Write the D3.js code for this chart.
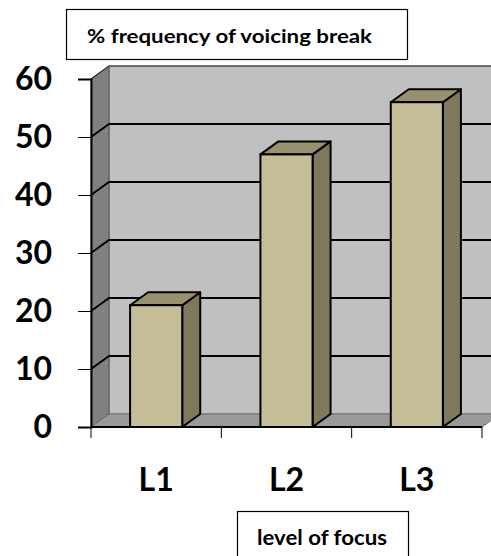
<!DOCTYPE html>
<html>
<head>
<meta charset="utf-8">
<script src="https://cdn.jsdelivr.net/npm/d3@7"></script>
<style>
  html, body { margin: 0; padding: 0; background: #fff; }
  svg { display: block; }
</style>
</head>
<body>
<svg id="chart" width="491" height="556"></svg>
<script>
// Chart data
const categories = ["L1", "L2", "L3"];
const values = [21, 47, 56];
const yTicks = [0, 10, 20, 30, 40, 50, 60];
const chartTitle = "% frequency of voicing break";
const axisTitle = "level of focus";

const svg = d3.select("#chart");
const font = "Lato, 'Open Sans', sans-serif";

// Plot frame (front plane) and 3D depth offset
const plotLeft = 91, plotRight = 482, plotTop = 79, plotBottom = 427;
const dx = 18, dy = -13;

const y = d3.scaleLinear().domain([0, 60]).range([plotBottom, plotTop]);
const x = d3.scaleBand().domain(categories).range([plotLeft, plotRight])
  .paddingInner(0.6).paddingOuter(0.3);

const line = d3.line();

// Back wall
svg.append("path")
  .attr("d", line([[plotLeft + dx, plotBottom + dy], [plotLeft + dx, plotTop + dy], [plotRight + dx + 40, plotTop + dy], [plotRight + dx + 40, plotBottom + dy]]) + "Z")
  .attr("fill", "#c0c0c0").attr("stroke", "#6e6e6e").attr("stroke-width", 1);

// Left side wall
svg.append("path")
  .attr("d", line([[plotLeft, plotBottom], [plotLeft + dx, plotBottom + dy], [plotLeft + dx, plotTop + dy], [plotLeft, plotTop]]) + "Z")
  .attr("fill", "#808080").attr("stroke", "#555").attr("stroke-width", 1);

// Floor
svg.append("path")
  .attr("d", line([[plotLeft, plotBottom], [plotLeft + dx, plotBottom + dy], [plotRight + dx, plotBottom + dy], [plotRight, plotBottom]]) + "Z")
  .attr("fill", "#999999").attr("stroke", "#6e6e6e").attr("stroke-width", 1);

// Gridlines on back wall and side wall
const grid = svg.append("g");
yTicks.filter(t => t > 0 && t < 60).forEach(t => {
  const yy = y(t);
  grid.append("path")
    .attr("d", line([[plotLeft, yy], [plotLeft + dx, yy + dy], [plotRight + dx + 40, yy + dy]]))
    .attr("fill", "none").attr("stroke", "#000").attr("stroke-width", 2);
});
// Top edge of the walls
grid.append("path")
  .attr("d", line([[plotLeft, y(60)], [plotLeft + dx, y(60) + dy], [plotRight + dx + 40, y(60) + dy]]))
  .attr("fill", "none").attr("stroke", "#333").attr("stroke-width", 1.2);

// Bars as 3D boxes
const bars = svg.append("g").selectAll("g").data(categories).join("g");
bars.each(function(c, i) {
  const g = d3.select(this);
  const x0 = x(c), x1 = x(c) + x.bandwidth();
  const yt = y(values[i]), yb = y(0);
  // side
  g.append("path")
    .attr("d", line([[x1, yb], [x1 + dx, yb + dy], [x1 + dx, yt + dy], [x1, yt]]) + "Z")
    .attr("fill", "#7e795c").attr("stroke", "#000").attr("stroke-width", 2).attr("stroke-linejoin", "round");
  // top
  g.append("path")
    .attr("d", line([[x0, yt], [x0 + dx, yt + dy], [x1 + dx, yt + dy], [x1, yt]]) + "Z")
    .attr("fill", "#97916f").attr("stroke", "#000").attr("stroke-width", 2).attr("stroke-linejoin", "round");
  // front
  g.append("rect")
    .attr("x", x0).attr("y", yt).attr("width", x1 - x0).attr("height", yb - yt)
    .attr("fill", "#c4bd97").attr("stroke", "#000").attr("stroke-width", 2);
});

// Y axis
const yAxis = svg.append("g").attr("transform", `translate(${plotLeft},0)`)
  .call(d3.axisLeft(y).tickValues(yTicks).tickSize(13).tickPadding(26));
yAxis.select(".domain").attr("stroke", "#000").attr("stroke-width", 2);
yAxis.selectAll(".tick line").attr("stroke", "#000").attr("stroke-width", 1);
yAxis.selectAll(".tick text")
  .attr("font-family", font).attr("font-weight", "bold").attr("font-size", 32).attr("fill", "#000");

// X axis baseline and category separators
svg.append("line")
  .attr("x1", plotLeft).attr("x2", plotRight).attr("y1", plotBottom).attr("y2", plotBottom)
  .attr("stroke", "#000").attr("stroke-width", 2);
d3.range(categories.length + 1).forEach(i => {
  const xx = plotLeft + i * x.step();
  svg.append("line")
    .attr("x1", xx).attr("x2", xx).attr("y1", plotBottom).attr("y2", plotBottom + 11)
    .attr("stroke", "#000").attr("stroke-width", 1);
});
svg.append("g").selectAll("text").data(categories).join("text")
  .attr("x", c => x(c) + x.bandwidth() / 2)
  .attr("y", 491)
  .attr("text-anchor", "middle")
  .attr("font-family", font).attr("font-weight", "bold").attr("font-size", 32)
  .text(c => c);

// Chart title box
svg.append("rect").attr("x", 66.5).attr("y", 9.5).attr("width", 341).attr("height", 50)
  .attr("fill", "#fff").attr("stroke", "#000").attr("stroke-width", 1.2);
svg.append("text").attr("x", 87).attr("y", 43)
  .attr("font-family", font).attr("font-weight", "bold").attr("font-size", 19)
  .attr("textLength", 285).attr("lengthAdjust", "spacingAndGlyphs")
  .text(chartTitle);

// Axis title box
svg.append("rect").attr("x", 237.5).attr("y", 511.5).attr("width", 171).attr("height", 60)
  .attr("fill", "#fff").attr("stroke", "#000").attr("stroke-width", 1.2);
svg.append("text").attr("x", 257).attr("y", 545)
  .attr("font-family", font).attr("font-weight", "bold").attr("font-size", 20)
  .attr("textLength", 130).attr("lengthAdjust", "spacingAndGlyphs")
  .text(axisTitle);
</script>
</body>
</html>
